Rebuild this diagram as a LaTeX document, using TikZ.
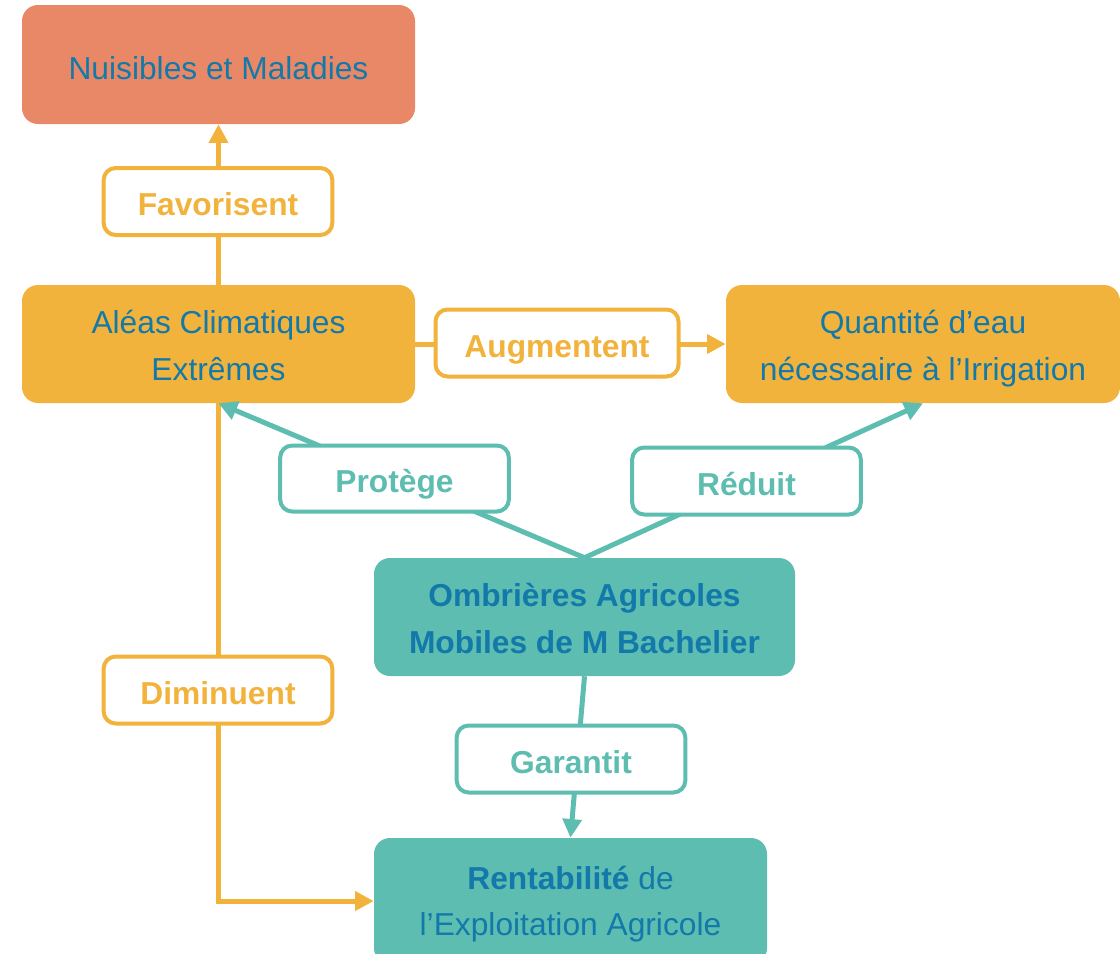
\documentclass[tikz,border=0pt]{standalone}
\usepackage{fontspec}
\setmainfont{Liberation Sans}
\usetikzlibrary{arrows.meta}
\definecolor{salmon}{HTML}{E98867}
\definecolor{orng}{HTML}{F2B33D}
\definecolor{teal1}{HTML}{5DBDB0}
\definecolor{txtblue}{HTML}{1379AA}
\tikzset{
  bigbox/.style={rounded corners=12pt, inner sep=0pt, minimum width=294.75pt, minimum height=88.5pt, align=center, text=txtblue, font=\fontsize{23.8}{35}\selectfont, text height=54pt, text depth=0pt},
  onebox/.style={bigbox, text height=22pt},
  labbox/.style={draw, fill=white, line width=3pt, rounded corners=9pt, inner sep=0pt, minimum width=171.5pt, minimum height=50.25pt, font=\fontsize{23.8}{35}\selectfont\bfseries, text height=21pt, text depth=0pt},
  olab/.style={labbox, draw=orng, text=orng},
  tlab/.style={labbox, draw=teal1, text=teal1},
  oarrow/.style={draw=orng, line width=3.75pt, -{Triangle[length=14pt,width=14pt]}},
  tarrow/.style={draw=teal1, line width=3.75pt, -{Triangle[length=14pt,width=14pt]}},
}
\begin{document}
\begin{tikzpicture}[x=0.75pt,y=-0.75pt]
\useasboundingbox (0,0) rectangle (1120,953);
\node[onebox, fill=salmon, minimum height=89.25pt] (nuis) at (218.5,64.5) {Nuisibles et Maladies};
\node[bigbox, fill=orng] (aleas) at (218.5,344) {Aléas Climatiques\\Extrêmes};
\node[bigbox, fill=orng, minimum width=295.5pt] (quant) at (923,344) {Quantité d’eau\\nécessaire à l’Irrigation};
\node[bigbox, fill=teal1, minimum width=315.75pt, font=\fontsize{23.8}{35}\selectfont\bfseries] (ombr) at (584.5,617) {Ombrières Agricoles\\Mobiles de M Bachelier};
\node[bigbox, fill=teal1, minimum height=94.5pt, text height=52pt] (rent) at (570.5,901) {\textbf{Rentabilité} de\\l’Exploitation Agricole};
% connectors
\draw[oarrow] (aleas.north) -- (nuis.south);
\draw[oarrow] (aleas.east) -- (quant.west);
\draw[oarrow] (aleas.south) |- (rent.west);
\draw[tarrow] (ombr.north) -- (aleas.south);
\draw[tarrow] (ombr.north) -- (quant.south);
\draw[tarrow] (ombr.south) -- (rent.north);
% labels
\node[olab] (fav) at (218,201.5) {Favorisent};
\node[olab, minimum width=182.25pt] (aug) at (557,343) {Augmentent};
\node[olab] (dim) at (218,690) {Diminuent};
\node[tlab, minimum height=49.5pt] (prot) at (394.5,478.5) {Protège};
\node[tlab] (red) at (746.5,481) {Réduit};
\node[tlab] (gar) at (571,759) {Garantit};
\end{tikzpicture}
\end{document}
